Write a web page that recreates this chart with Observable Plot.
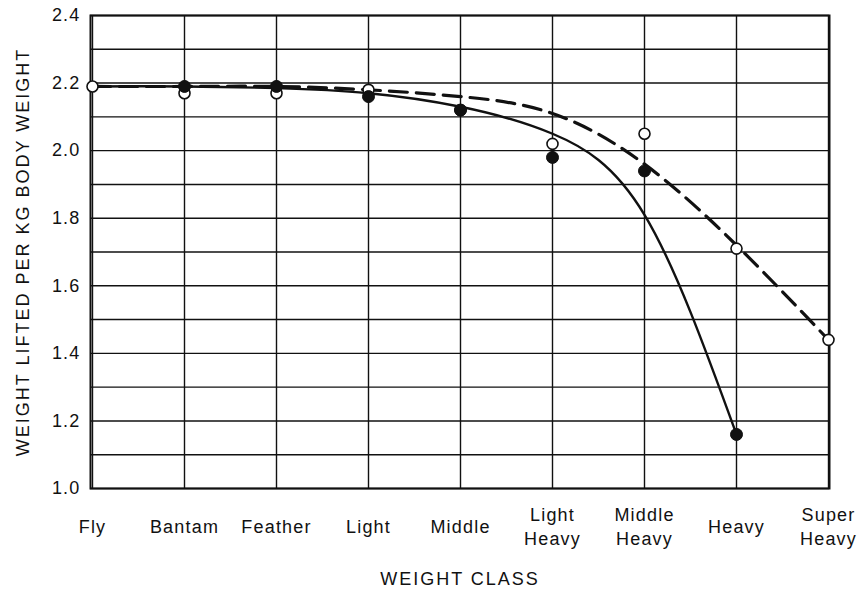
<!DOCTYPE html>
<html>
<head>
<meta charset="utf-8">
<script src="https://cdn.jsdelivr.net/npm/d3@7"></script>
<script src="https://cdn.jsdelivr.net/npm/@observablehq/plot@0.6"></script>
<style>
  html, body { margin: 0; padding: 0; background: #fff; }
  #chart svg text { letter-spacing: 1.2px; }
  #chart svg g.axis-title text { letter-spacing: 2px; }
</style>
</head>
<body>
<div id="chart"></div>
<script>
// Weight classes (x categories) and their tick labels
const categories = ["Fly", "Bantam", "Feather", "Light", "Middle", "Light Heavy", "Middle Heavy", "Heavy", "Super Heavy"];
const xTickLabels = ["Fly", "Bantam", "Feather", "Light", "Middle", "Light\nHeavy", "Middle\nHeavy", "Heavy", "Super\nHeavy"];

// Open circles (dashed curve) and filled circles (solid curve)
const openValues   = [2.19, 2.17, 2.17, 2.18, 2.12, 2.02, 2.05, 1.71, 1.44];
const filledValues = [null, 2.19, 2.19, 2.16, 2.12, 1.98, 1.94, 1.16, null];

// Fitted curves
const dashedCurve = [2.19, 2.19, 2.19, 2.18, 2.16, 2.11, 1.96, 1.72, 1.44];
const solidCurve  = [2.19, 2.19, 2.185, 2.17, 2.13, 2.05, 1.81, 1.16];

// Axis ticks and grid lines
const yTicks = [1.0, 1.2, 1.4, 1.6, 1.8, 2.0, 2.2, 2.4];
const yGrid = [1.0, 1.1, 1.2, 1.3, 1.4, 1.5, 1.6, 1.7, 1.8, 1.9, 2.0, 2.1, 2.2, 2.3, 2.4];

const yLabel = "WEIGHT LIFTED PER KG BODY WEIGHT";
const xLabel = "WEIGHT CLASS";

const openData = categories.map((c, i) => ({cls: c, v: openValues[i]}));
const filledData = categories.map((c, i) => ({cls: c, v: filledValues[i]})).filter(d => d.v != null);
const dashedData = categories.map((c, i) => ({cls: c, v: dashedCurve[i]}));
const solidData = solidCurve.map((v, i) => ({cls: categories[i], v}));
const tickData = categories.map((c, i) => ({cls: c, label: xTickLabels[i]}));

const font = "'Liberation Sans', Arial, sans-serif";

const chart = Plot.plot({
  width: 862,
  height: 591,
  marginLeft: 90,
  marginRight: 33,
  marginTop: 15,
  marginBottom: 103,
  style: {fontFamily: font, fontSize: "17px", color: "#111", background: "#fff"},
  x: {type: "point", domain: categories, padding: 0, axis: null},
  y: {domain: [1.0, 2.4], axis: null},
  marks: [
    Plot.gridY(yGrid, {stroke: "#111", strokeOpacity: 1, strokeWidth: 1.4}),
    Plot.gridX(categories, {stroke: "#111", strokeOpacity: 1, strokeWidth: 1.4}),
    Plot.frame({stroke: "#111", strokeWidth: 2}),
    Plot.axisY(yTicks, {tickSize: 0, tickPadding: 10, tickFormat: d3.format(".1f"), label: null, fontSize: 18}),
    Plot.text(tickData, {x: "cls", text: "label", frameAnchor: "bottom", dy: 37, lineAnchor: "middle", lineHeight: 1.35, fontSize: 18, fill: "#111"}),
    Plot.text([yLabel], {frameAnchor: "left", textAnchor: "middle", rotate: -90, dx: -67, fontSize: 18, fill: "#111", className: "axis-title"}),
    Plot.text([xLabel], {frameAnchor: "bottom", dy: 96, fontSize: 18, fill: "#111", className: "axis-title"}),
    Plot.line(dashedData, {x: "cls", y: "v", curve: "natural", stroke: "#111", strokeWidth: 3.2, strokeDasharray: "18,9"}),
    Plot.line(solidData, {x: "cls", y: "v", curve: "natural", stroke: "#111", strokeWidth: 2.4}),
    Plot.dot(openData, {x: "cls", y: "v", r: 5.5, fill: "#fff", stroke: "#111", strokeWidth: 1.6}),
    Plot.dot(filledData, {x: "cls", y: "v", r: 6, fill: "#111", stroke: "#111", strokeWidth: 1})
  ]
});

document.getElementById("chart").appendChild(chart);
</script>
</body>
</html>
